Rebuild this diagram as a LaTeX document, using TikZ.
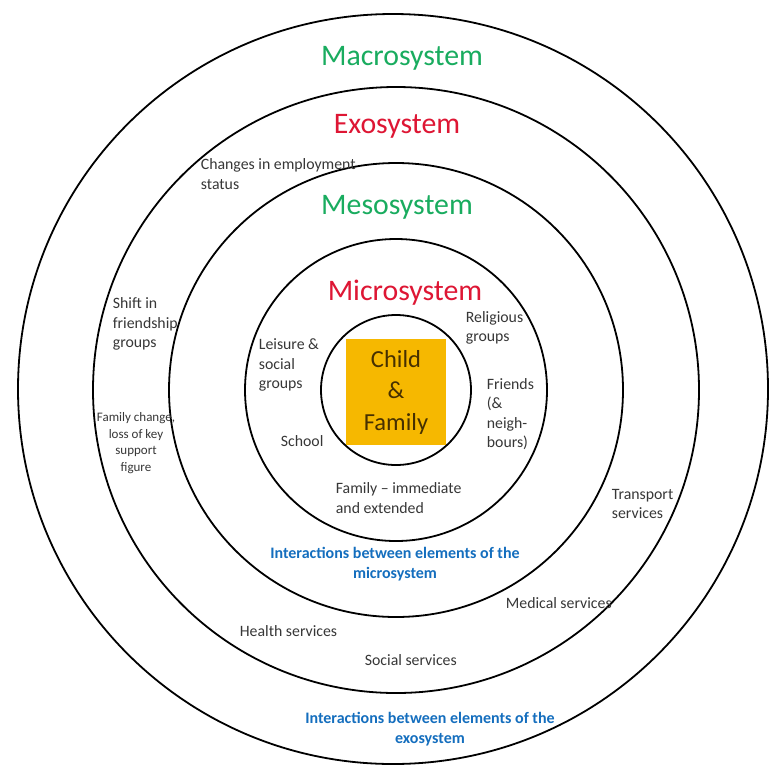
\documentclass[tikz,border=0pt]{standalone}
\usepackage{fontspec}
\setmainfont{Carlito}
\usetikzlibrary{calc}

\definecolor{sysgreen}{RGB}{25,172,95}
\definecolor{sysred}{RGB}{222,22,52}
\definecolor{sysblue}{RGB}{20,110,190}
\definecolor{boxgold}{RGB}{246,184,0}
\definecolor{txtgrey}{RGB}{55,55,55}
\definecolor{boxtxt}{RGB}{70,48,0}

\begin{document}
\begin{tikzpicture}
[x=1pt,y=-1pt,line width=1.8pt,
every node/.style={inner sep=0pt,text=txtgrey,align=left,font=\fontsize{15.8}{19.5}\selectfont},
sysname/.style={font=\fontsize{29.8}{32}\selectfont,align=center},
inter/.style={text=sysblue,align=center,font=\bfseries\fontsize{16}{20.5}\selectfont},
note/.style={anchor=west}]

\useasboundingbox (0,0) rectangle (770,766);
\fill[white] (0,0) rectangle (770,766);

\coordinate (o) at (396,390);
\coordinate (oo) at (393,389);

%rings
\foreach \r in {75,151,227,303}
\draw (o) circle (\r pt);
\draw (oo) circle (375pt);

\node[sysname,text=sysgreen] (mac) at (402,58) {Macrosystem};
\node[sysname,text=sysred] (exo) at (397,126) {Exosystem};
\node[sysname,text=sysgreen] (meso) at (397,207) {Mesosystem};
\node[sysname,text=sysred] (micro) at (405,293) {Microsystem};

\node[fill=boxgold,minimum width=100pt,minimum height=106pt,align=center,text=boxtxt,
font=\fontsize{24.5}{31.5}\selectfont] (child) at (396,392) {Child\\\&\\Family};

\node[note] (emp) at (200,174) {Changes in employment\\status};
\node[note] (relig) at (465,328) {Religious\\groups};
\node[note] (leis) at (258,365) {Leisure \&\\social\\groups};
\node[note] (frnd) at (486,414) {Friends\\(\&\\neigh-\\bours)};
\node[note] (school) at (280,441) {School};
\node[note] (famext) at (335,498) {Family -- immediate\\and extended};
\node[note] (shift) at (112,324) {Shift in\\friendship\\groups};
\node[align=center,font=\fontsize{13}{16.5}\selectfont] (famchg) at (136,443)
{Family change,\\loss of key\\support\\figure};
\node[note] (trans) at (611,504) {Transport\\services};
\node[note] (med) at (505,603) {Medical services};
\node[note] (health) at (239,631) {Health services};
\node[note] (social) at (364,660) {Social services};

\node[inter] (imicro) at (395,564) {Interactions between elements of the\\microsystem};
\node[inter] (iexo) at (430,729) {Interactions between elements of the\\exosystem};

\end{tikzpicture}
\end{document}
